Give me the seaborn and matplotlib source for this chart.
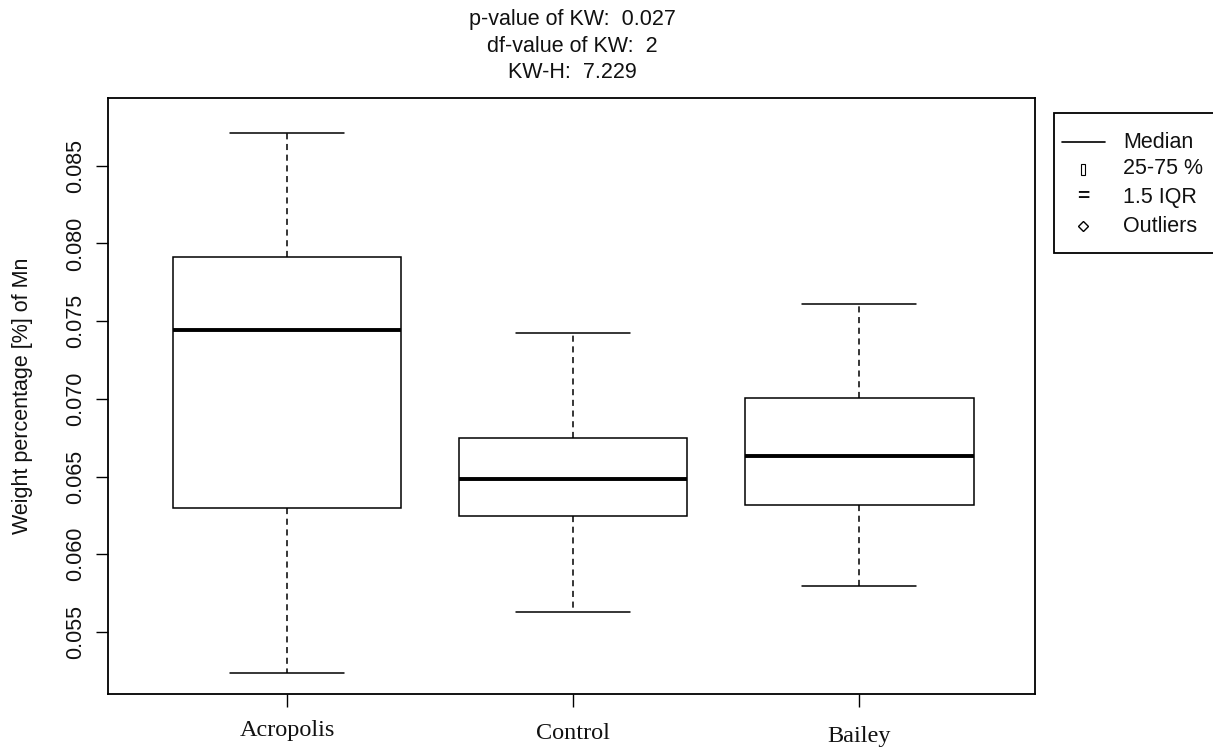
import numpy as np
import pandas as pd
import matplotlib
matplotlib.use('Agg')
import matplotlib.pyplot as plt
import seaborn as sns
from matplotlib.transforms import ScaledTranslation
from matplotlib.patches import Rectangle
from matplotlib.lines import Line2D

# box statistics
sites = ['Acropolis', 'Control', 'Bailey']
lower_whisker = [0.05236, 0.05629, 0.05796]
q1 = [0.06298, 0.06246, 0.06317]
median = [0.07443, 0.06485, 0.06633]
q3 = [0.07913, 0.06748, 0.07006]
upper_whisker = [0.08711, 0.07424, 0.07611]

title_lines = ['p-value of KW:  0.027', 'df-value of KW:  2', 'KW-H:  7.229']
legend_labels = ['Median', '25-75 %', '1.5 IQR', 'Outliers']

# five points per group -> quartiles land exactly on the stats (whis=(0,100))
rows = []
for i, s in enumerate(sites):
    for v in (lower_whisker[i], q1[i], median[i], q3[i], upper_whisker[i]):
        rows.append({'site': s, 'value': v})
df = pd.DataFrame(rows)

sns.set_style('white')
plt.rcParams['font.family'] = ['Liberation Sans', 'DejaVu Sans']
plt.rcParams['text.color'] = '#111111'
plt.rcParams['axes.labelcolor'] = '#111111'
plt.rcParams['xtick.color'] = '#111111'
plt.rcParams['ytick.color'] = '#111111'

W, H = 1213, 748
fig = plt.figure(figsize=(W / 100, H / 100), dpi=100, facecolor='white')
ax = fig.add_axes([108 / W, 1 - 694 / H, 927 / W, 596 / H])


def px(x, y):
    return x / W, 1 - y / H


sns.boxplot(data=df, x='site', y='value', order=sites, whis=(0, 100), width=0.8,
            color='white', linecolor='black', linewidth=1.1, showfliers=False,
            medianprops=dict(linewidth=2.8),
            whiskerprops=dict(linestyle=(0, (4, 3))),
            ax=ax)

ax.set_xlim(-0.626, 2.615)
ax.set_ylim(0.05101, 0.08936)
ax.set_yticks(np.arange(0.055, 0.0851, 0.005))
ax.set_yticklabels([f'{t:.3f}' for t in np.arange(0.055, 0.0851, 0.005)])
ax.tick_params(axis='y', labelrotation=90, labelsize=15.5, length=9, width=1,
               pad=7, direction='out', left=True, color='black')
ax.tick_params(axis='x', length=9, width=1, pad=9.5, direction='out', bottom=True,
               color='black')
for lab in ax.get_yticklabels():
    lab.set_va('center')

ax.set_xlabel('')
ax.set_xticks(range(len(sites)))
ax.set_xticklabels(sites, fontfamily='Liberation Serif', fontsize=17.5)
for k, lab in enumerate(ax.get_xticklabels()):
    lab.set_transform(lab.get_transform() + ScaledTranslation(0, -3 * k / 100, fig.dpi_scale_trans))

ax.set_ylabel('Weight percentage [%] of Mn', fontsize=15.5)
ax.yaxis.set_label_coords(-0.081, 0.5)

for sp in ax.spines.values():
    sp.set_color('black')
    sp.set_linewidth(1.3)

# stacked title lines above the plot
for txt, y in zip(title_lines, [20, 46, 73]):
    fig.text(*px(572, y), txt, ha='center', va='center', fontsize=15.5)

# hand-drawn legend box to the right (clipped by figure edge like the original)
fig.patches.append(Rectangle(px(1054, 253), 200 / W, 140 / H, transform=fig.transFigure,
                             facecolor='white', edgecolor='black', linewidth=1.3))
fig.lines.append(Line2D([1062 / W, 1105 / W], [1 - 142 / H, 1 - 142 / H],
                        transform=fig.transFigure, color='black', linewidth=1.2))
fig.patches.append(Rectangle(px(1081, 175), 4 / W, 11 / H, transform=fig.transFigure,
                             facecolor='none', edgecolor='black', linewidth=0.8))
fig.text(*px(1083, 197), '=', ha='center', va='center', fontsize=15, fontweight='bold')
fig.lines.append(Line2D([1083 / W], [1 - 226 / H], transform=fig.transFigure,
                        marker='D', markersize=5, markerfacecolor='white',
                        markeredgecolor='black', markeredgewidth=1, linestyle='none'))
for txt, y in zip(legend_labels, [142, 169, 197, 226]):
    fig.text(*px(1123, y), txt, ha='left', va='center', fontsize=15.5)

fig.savefig('out.png', dpi=100)
